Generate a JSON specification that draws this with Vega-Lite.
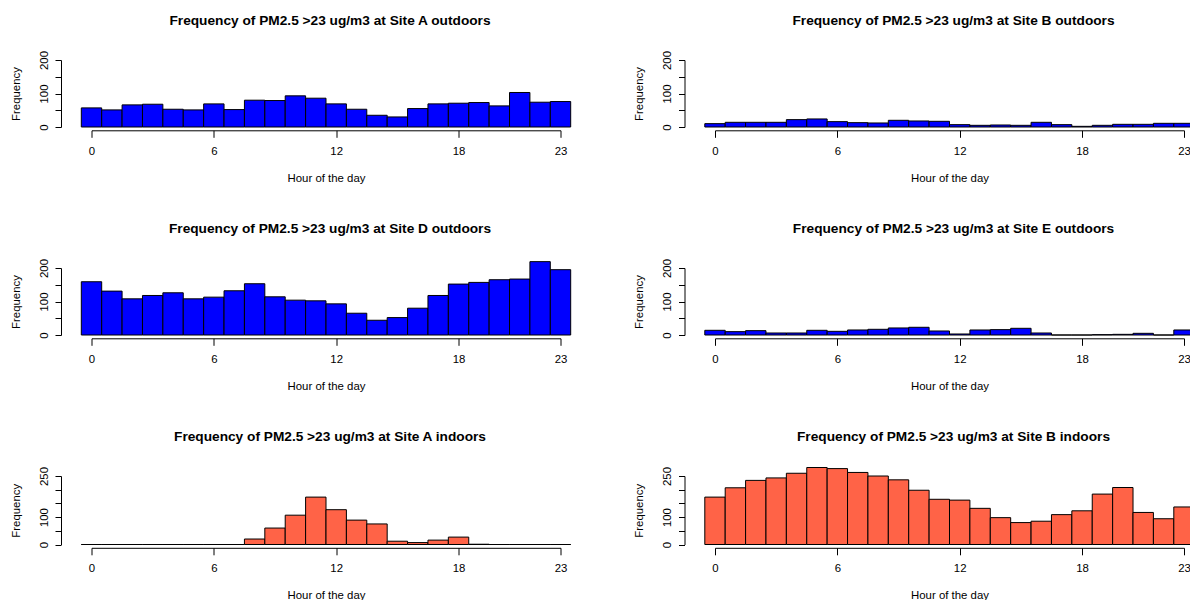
{
  "$schema": "https://vega.github.io/schema/vega-lite/v6.json",
  "background": "white",
  "padding": {"left": 9.5, "top": 14, "right": 0, "bottom": 0},
  "bounds": "flush",
  "columns": 2,
  "spacing": {"row": 141, "column": 154.5},
  "datasets": {
    "a_out": [
      {"from": -0.5, "to": 0.5, "count": 57}, {"from": 0.5, "to": 1.5, "count": 51}, {"from": 1.5, "to": 2.5, "count": 66}, {"from": 2.5, "to": 3.5, "count": 68},
      {"from": 3.5, "to": 4.5, "count": 53}, {"from": 4.5, "to": 5.5, "count": 51}, {"from": 5.5, "to": 6.5, "count": 69}, {"from": 6.5, "to": 7.5, "count": 52},
      {"from": 7.5, "to": 8.5, "count": 80}, {"from": 8.5, "to": 9.5, "count": 79}, {"from": 9.5, "to": 10.5, "count": 93}, {"from": 10.5, "to": 11.5, "count": 86},
      {"from": 11.5, "to": 12.5, "count": 69}, {"from": 12.5, "to": 13.5, "count": 53}, {"from": 13.5, "to": 14.5, "count": 35}, {"from": 14.5, "to": 15.5, "count": 30},
      {"from": 15.5, "to": 16.5, "count": 55}, {"from": 16.5, "to": 17.5, "count": 69}, {"from": 17.5, "to": 18.5, "count": 71}, {"from": 18.5, "to": 19.5, "count": 73},
      {"from": 19.5, "to": 20.5, "count": 63}, {"from": 20.5, "to": 21.5, "count": 103}, {"from": 21.5, "to": 22.5, "count": 74}, {"from": 22.5, "to": 23.5, "count": 76}
    ],
    "b_out": [
      {"from": -0.5, "to": 0.5, "count": 10}, {"from": 0.5, "to": 1.5, "count": 14}, {"from": 1.5, "to": 2.5, "count": 14}, {"from": 2.5, "to": 3.5, "count": 14},
      {"from": 3.5, "to": 4.5, "count": 22}, {"from": 4.5, "to": 5.5, "count": 24}, {"from": 5.5, "to": 6.5, "count": 16}, {"from": 6.5, "to": 7.5, "count": 13},
      {"from": 7.5, "to": 8.5, "count": 12}, {"from": 8.5, "to": 9.5, "count": 20}, {"from": 9.5, "to": 10.5, "count": 18}, {"from": 10.5, "to": 11.5, "count": 17},
      {"from": 11.5, "to": 12.5, "count": 7}, {"from": 12.5, "to": 13.5, "count": 5}, {"from": 13.5, "to": 14.5, "count": 6}, {"from": 14.5, "to": 15.5, "count": 5},
      {"from": 15.5, "to": 16.5, "count": 14}, {"from": 16.5, "to": 17.5, "count": 7}, {"from": 17.5, "to": 18.5, "count": 2}, {"from": 18.5, "to": 19.5, "count": 5},
      {"from": 19.5, "to": 20.5, "count": 8}, {"from": 20.5, "to": 21.5, "count": 8}, {"from": 21.5, "to": 22.5, "count": 11}, {"from": 22.5, "to": 23.5, "count": 11}
    ],
    "d_out": [
      {"from": -0.5, "to": 0.5, "count": 159}, {"from": 0.5, "to": 1.5, "count": 131}, {"from": 1.5, "to": 2.5, "count": 108}, {"from": 2.5, "to": 3.5, "count": 118},
      {"from": 3.5, "to": 4.5, "count": 126}, {"from": 4.5, "to": 5.5, "count": 108}, {"from": 5.5, "to": 6.5, "count": 113}, {"from": 6.5, "to": 7.5, "count": 132},
      {"from": 7.5, "to": 8.5, "count": 153}, {"from": 8.5, "to": 9.5, "count": 114}, {"from": 9.5, "to": 10.5, "count": 104}, {"from": 10.5, "to": 11.5, "count": 102},
      {"from": 11.5, "to": 12.5, "count": 93}, {"from": 12.5, "to": 13.5, "count": 65}, {"from": 13.5, "to": 14.5, "count": 44}, {"from": 14.5, "to": 15.5, "count": 52},
      {"from": 15.5, "to": 16.5, "count": 80}, {"from": 16.5, "to": 17.5, "count": 118}, {"from": 17.5, "to": 18.5, "count": 152}, {"from": 18.5, "to": 19.5, "count": 157},
      {"from": 19.5, "to": 20.5, "count": 165}, {"from": 20.5, "to": 21.5, "count": 167}, {"from": 21.5, "to": 22.5, "count": 219}, {"from": 22.5, "to": 23.5, "count": 195}
    ],
    "e_out": [
      {"from": -0.5, "to": 0.5, "count": 14}, {"from": 0.5, "to": 1.5, "count": 10}, {"from": 1.5, "to": 2.5, "count": 13}, {"from": 2.5, "to": 3.5, "count": 6},
      {"from": 3.5, "to": 4.5, "count": 6}, {"from": 4.5, "to": 5.5, "count": 14}, {"from": 5.5, "to": 6.5, "count": 11}, {"from": 6.5, "to": 7.5, "count": 15},
      {"from": 7.5, "to": 8.5, "count": 17}, {"from": 8.5, "to": 9.5, "count": 21}, {"from": 9.5, "to": 10.5, "count": 23}, {"from": 10.5, "to": 11.5, "count": 12},
      {"from": 11.5, "to": 12.5, "count": 3}, {"from": 12.5, "to": 13.5, "count": 15}, {"from": 13.5, "to": 14.5, "count": 16}, {"from": 14.5, "to": 15.5, "count": 20},
      {"from": 15.5, "to": 16.5, "count": 6}, {"from": 16.5, "to": 17.5, "count": 0}, {"from": 17.5, "to": 18.5, "count": 0}, {"from": 18.5, "to": 19.5, "count": 1},
      {"from": 19.5, "to": 20.5, "count": 2}, {"from": 20.5, "to": 21.5, "count": 5}, {"from": 21.5, "to": 22.5, "count": 0}, {"from": 22.5, "to": 23.5, "count": 15}
    ],
    "a_in": [
      {"from": -0.5, "to": 0.5, "count": 0}, {"from": 0.5, "to": 1.5, "count": 0}, {"from": 1.5, "to": 2.5, "count": 0}, {"from": 2.5, "to": 3.5, "count": 0},
      {"from": 3.5, "to": 4.5, "count": 0}, {"from": 4.5, "to": 5.5, "count": 0}, {"from": 5.5, "to": 6.5, "count": 0}, {"from": 6.5, "to": 7.5, "count": 0},
      {"from": 7.5, "to": 8.5, "count": 20}, {"from": 8.5, "to": 9.5, "count": 60}, {"from": 9.5, "to": 10.5, "count": 107}, {"from": 10.5, "to": 11.5, "count": 173},
      {"from": 11.5, "to": 12.5, "count": 127}, {"from": 12.5, "to": 13.5, "count": 89}, {"from": 13.5, "to": 14.5, "count": 75}, {"from": 14.5, "to": 15.5, "count": 12},
      {"from": 15.5, "to": 16.5, "count": 7}, {"from": 16.5, "to": 17.5, "count": 16}, {"from": 17.5, "to": 18.5, "count": 27}, {"from": 18.5, "to": 19.5, "count": 1},
      {"from": 19.5, "to": 20.5, "count": 0}, {"from": 20.5, "to": 21.5, "count": 0}, {"from": 21.5, "to": 22.5, "count": 0}, {"from": 22.5, "to": 23.5, "count": 0}
    ],
    "b_in": [
      {"from": -0.5, "to": 0.5, "count": 173}, {"from": 0.5, "to": 1.5, "count": 207}, {"from": 1.5, "to": 2.5, "count": 234}, {"from": 2.5, "to": 3.5, "count": 243},
      {"from": 3.5, "to": 4.5, "count": 260}, {"from": 4.5, "to": 5.5, "count": 281}, {"from": 5.5, "to": 6.5, "count": 277}, {"from": 6.5, "to": 7.5, "count": 263},
      {"from": 7.5, "to": 8.5, "count": 250}, {"from": 8.5, "to": 9.5, "count": 236}, {"from": 9.5, "to": 10.5, "count": 198}, {"from": 10.5, "to": 11.5, "count": 165},
      {"from": 11.5, "to": 12.5, "count": 162}, {"from": 12.5, "to": 13.5, "count": 132}, {"from": 13.5, "to": 14.5, "count": 98}, {"from": 14.5, "to": 15.5, "count": 80},
      {"from": 15.5, "to": 16.5, "count": 85}, {"from": 16.5, "to": 17.5, "count": 109}, {"from": 17.5, "to": 18.5, "count": 123}, {"from": 18.5, "to": 19.5, "count": 184},
      {"from": 19.5, "to": 20.5, "count": 208}, {"from": 20.5, "to": 21.5, "count": 117}, {"from": 21.5, "to": 22.5, "count": 94}, {"from": 22.5, "to": 23.5, "count": 137}
    ]
  },
  "config": {
    "view": {"stroke": null},
    "font": "Liberation Sans",
    "axis": {
      "domainColor": "#000000", "tickColor": "#000000", "labelColor": "#000000", "titleColor": "#000000",
      "labelFont": "Liberation Sans", "titleFont": "Liberation Sans", "labelFontSize": 11.4, "titleFontSize": 11.4,
      "titleFontWeight": "normal", "grid": false, "domainWidth": 1, "tickWidth": 1, "labelOverlap": false, "labelFlush": false, "labelBound": false
    },
    "axisX": {"offset": 3.3, "tickSize": 7, "labelPadding": 8, "titlePadding": 15.5},
    "axisY": {"offset": 30.5, "tickSize": 6, "labelAngle": 270, "labelAlign": "center", "labelBaseline": "bottom", "labelPadding": 6, "titlePadding": 17},
    "title": {"font": "Liberation Sans", "fontSize": 13.7, "fontWeight": "bold", "color": "#000000", "offset": 22.5, "anchor": "middle", "dx": 4},
    "bar": {"stroke": "#000000", "strokeWidth": 1}
  },
  "concat": [
    {
      "title": "Frequency of PM2.5 >23 ug/m3 at Site A outdoors",
      "width": 469, "height": 67, "data": {"name": "a_out"},
      "mark": {"type": "bar", "fill": "#0000FF"},
      "encoding": {
        "x": {"field": "from", "type": "quantitative", "scale": {"domain": [0, 23], "nice": false, "zero": false}, "axis": {"title": "Hour of the day", "values": [0, 6, 12, 18, 23]}},
        "x2": {"field": "to"},
        "y": {"field": "count", "type": "quantitative", "scale": {"domain": [0, 200], "nice": false}, "axis": {"title": "Frequency", "values": [0, 50, 100, 150, 200], "labelExpr": "datum.value % 100 == 0 ? datum.label : ''"}},
        "y2": {"datum": 0}
      }
    },
    {
      "title": "Frequency of PM2.5 >23 ug/m3 at Site B outdoors",
      "width": 469, "height": 67, "data": {"name": "b_out"},
      "mark": {"type": "bar", "fill": "#0000FF"},
      "encoding": {
        "x": {"field": "from", "type": "quantitative", "scale": {"domain": [0, 23], "nice": false, "zero": false}, "axis": {"title": "Hour of the day", "values": [0, 6, 12, 18, 23]}},
        "x2": {"field": "to"},
        "y": {"field": "count", "type": "quantitative", "scale": {"domain": [0, 200], "nice": false}, "axis": {"title": "Frequency", "values": [0, 50, 100, 150, 200], "labelExpr": "datum.value % 100 == 0 ? datum.label : ''"}},
        "y2": {"datum": 0}
      }
    },
    {
      "title": "Frequency of PM2.5 >23 ug/m3 at Site D outdoors",
      "width": 469, "height": 67, "data": {"name": "d_out"},
      "mark": {"type": "bar", "fill": "#0000FF"},
      "encoding": {
        "x": {"field": "from", "type": "quantitative", "scale": {"domain": [0, 23], "nice": false, "zero": false}, "axis": {"title": "Hour of the day", "values": [0, 6, 12, 18, 23]}},
        "x2": {"field": "to"},
        "y": {"field": "count", "type": "quantitative", "scale": {"domain": [0, 200], "nice": false}, "axis": {"title": "Frequency", "values": [0, 50, 100, 150, 200], "labelExpr": "datum.value % 100 == 0 ? datum.label : ''"}},
        "y2": {"datum": 0}
      }
    },
    {
      "title": "Frequency of PM2.5 >23 ug/m3 at Site E outdoors",
      "width": 469, "height": 67, "data": {"name": "e_out"},
      "mark": {"type": "bar", "fill": "#0000FF"},
      "encoding": {
        "x": {"field": "from", "type": "quantitative", "scale": {"domain": [0, 23], "nice": false, "zero": false}, "axis": {"title": "Hour of the day", "values": [0, 6, 12, 18, 23]}},
        "x2": {"field": "to"},
        "y": {"field": "count", "type": "quantitative", "scale": {"domain": [0, 200], "nice": false}, "axis": {"title": "Frequency", "values": [0, 50, 100, 150, 200], "labelExpr": "datum.value % 100 == 0 ? datum.label : ''"}},
        "y2": {"datum": 0}
      }
    },
    {
      "title": "Frequency of PM2.5 >23 ug/m3 at Site A indoors",
      "width": 469, "height": 68.5, "data": {"name": "a_in"},
      "mark": {"type": "bar", "fill": "#FF6347"},
      "encoding": {
        "x": {"field": "from", "type": "quantitative", "scale": {"domain": [0, 23], "nice": false, "zero": false}, "axis": {"title": "Hour of the day", "values": [0, 6, 12, 18, 23]}},
        "x2": {"field": "to"},
        "y": {"field": "count", "type": "quantitative", "scale": {"domain": [0, 250], "nice": false}, "axis": {"title": "Frequency", "values": [0, 50, 100, 150, 200, 250], "labelExpr": "datum.value == 0 || datum.value == 100 || datum.value == 250 ? datum.label : ''"}},
        "y2": {"datum": 0}
      }
    },
    {
      "title": "Frequency of PM2.5 >23 ug/m3 at Site B indoors",
      "width": 469, "height": 68.5, "data": {"name": "b_in"},
      "mark": {"type": "bar", "fill": "#FF6347"},
      "encoding": {
        "x": {"field": "from", "type": "quantitative", "scale": {"domain": [0, 23], "nice": false, "zero": false}, "axis": {"title": "Hour of the day", "values": [0, 6, 12, 18, 23]}},
        "x2": {"field": "to"},
        "y": {"field": "count", "type": "quantitative", "scale": {"domain": [0, 250], "nice": false}, "axis": {"title": "Frequency", "values": [0, 50, 100, 150, 200, 250], "labelExpr": "datum.value == 0 || datum.value == 100 || datum.value == 250 ? datum.label : ''"}},
        "y2": {"datum": 0}
      }
    }
  ]
}
